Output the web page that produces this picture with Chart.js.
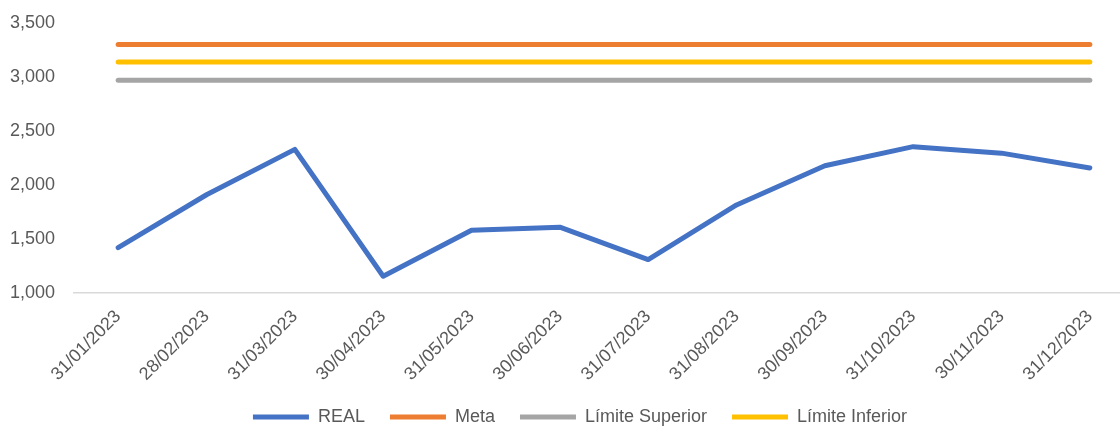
<!DOCTYPE html>
<html>
<head>
<meta charset="utf-8">
<script src="https://cdn.jsdelivr.net/npm/chart.js"></script>
<style>
  html, body { margin: 0; padding: 0; background: #fff; overflow: hidden; }
  #contenedor { width: 1140px; height: 436px; position: relative; }
</style>
</head>
<body>
<div id="contenedor"><canvas id="grafica"></canvas></div>
<script>
// fechas de cierre de cada mes
var fechas = ['31/01/2023', '28/02/2023', '31/03/2023', '30/04/2023', '31/05/2023', '30/06/2023',
              '31/07/2023', '31/08/2023', '30/09/2023', '31/10/2023', '30/11/2023', '31/12/2023'];
var real = [1420, 1910, 2330, 1155, 1582, 1610, 1310, 1815, 2178, 2355, 2295, 2158];
var meta = [3300, 3300, 3300, 3300, 3300, 3300, 3300, 3300, 3300, 3300, 3300, 3300];
var limiteSuperior = [2970, 2970, 2970, 2970, 2970, 2970, 2970, 2970, 2970, 2970, 2970, 2970];
var limiteInferior = [3140, 3140, 3140, 3140, 3140, 3140, 3140, 3140, 3140, 3140, 3140, 3140];
var ejeY = { min: 1000, max: 3500, paso: 500 };

var fuente = "'Liberation Sans', Arial, sans-serif";
var gris = '#595959';

function serie(nombre, datos, color) {
  return {
    label: nombre,
    data: datos,
    borderColor: color,
    backgroundColor: color,
    borderWidth: 5,
    borderCapStyle: 'round',
    borderJoinStyle: 'round',
    pointRadius: 0,
    pointHoverRadius: 0,
    pointStyle: 'line',
    tension: 0
  };
}

var ctx = document.getElementById('grafica').getContext('2d');
var chart = new Chart(ctx, {
  type: 'line',
  data: {
    labels: fechas,
    datasets: [
      serie('REAL', real, '#4472C4'),
      serie('Meta', meta, '#ED7D31'),
      serie('Límite Superior', limiteSuperior, '#A5A5A5'),
      serie('Límite Inferior', limiteInferior, '#FFC000')
    ]
  },
  options: {
    responsive: true,
    maintainAspectRatio: false,
    animation: false,
    layout: { padding: { left: 26, right: 6, top: 23, bottom: 0 } },
    plugins: {
      tooltip: { enabled: false },
      legend: {
        position: 'bottom',
        labels: {
          usePointStyle: true,
          pointStyleWidth: 56,
          boxHeight: 10,
          padding: 10,
          color: gris,
          font: { family: fuente, size: 18 },
          generateLabels: function(grafica) {
            // un poco más de aire entre elementos de la leyenda
            var items = Chart.defaults.plugins.legend.labels.generateLabels(grafica);
            items.forEach(function(item, i) {
              if (i < items.length - 1) item.text = item.text + '   ';
            });
            return items;
          }
        }
      }
    },
    scales: {
      x: {
        offset: true,
        grid: { display: false, drawTicks: false },
        border: { display: true, color: '#D9D9D9', width: 1.5 },
        ticks: {
          autoSkip: false,
          minRotation: 45,
          maxRotation: 45,
          padding: 13,
          color: gris,
          font: { family: fuente, size: 18 }
        }
      },
      y: {
        min: ejeY.min,
        max: ejeY.max,
        grid: { display: false, drawTicks: false },
        border: { display: false },
        afterFit: function(escala) { escala.width = 48; },
        ticks: {
          stepSize: ejeY.paso,
          // etiquetas en modo espejo para que no se recorten contra el margen
          mirror: true,
          padding: -64,
          color: gris,
          font: { family: fuente, size: 18 },
          callback: function(valor) { return valor.toLocaleString('en-US'); }
        }
      }
    }
  }
});
</script>
</body>
</html>
